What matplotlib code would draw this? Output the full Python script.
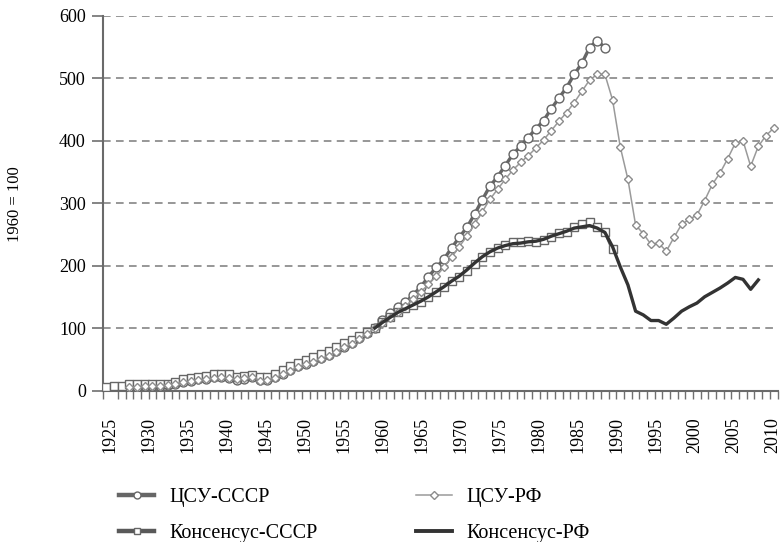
import matplotlib
matplotlib.use("Agg")
import matplotlib.pyplot as plt
from matplotlib.lines import Line2D
from matplotlib.ticker import FixedLocator, NullFormatter

plt.rcParams['font.family'] = ['Liberation Serif', 'DejaVu Serif']

# ---------------- data (1960 = 100) ----------------
years_cons_ussr = list(range(1925, 1992))
cons_ussr = [5, 7, 7, 10, 10, 11, 11, 11, 11, 14,
             18, 20, 21, 23, 26, 26, 26, 21, 23, 25,
             21, 21, 26, 33, 40, 44, 49, 54, 58, 64,
             69, 76, 81, 88, 94, 100, 110, 118, 125, 132,
             137, 142, 150, 158, 166, 176, 182, 192, 203, 213,
             221, 228, 233, 237, 237, 239, 238, 241, 245, 252,
             254, 261, 266, 269, 262, 254, 226]

years_csu_ussr = list(range(1928, 1991))
csu_ussr = [5, 6, 7, 8, 8, 9, 11, 13, 16, 18,
            19, 21, 22, 20, 17, 19, 21, 17, 17, 21,
            27, 33, 39, 43, 47, 52, 57, 63, 70, 76,
            84, 92, 100, 113, 124, 134, 141, 153, 166, 182,
            197, 210, 228, 245, 261, 282, 305, 327, 342, 360,
            378, 391, 405, 419, 432, 451, 468, 485, 506, 524,
            549, 560, 549]

years_csu_rf = list(range(1928, 2013))
csu_rf = [5, 6, 7, 8, 8, 9, 11, 13, 15, 17,
          18, 20, 21, 20, 18, 20, 22, 16, 17, 20,
          26, 32, 38, 42, 46, 51, 56, 62, 69, 75,
          83, 91, 100, 108, 116, 125, 135, 146, 158, 170,
          183, 197, 213, 230, 247, 266, 286, 306, 322, 338,
          353, 365, 376, 388, 401, 416, 431, 445, 461, 479,
          497, 506, 506, 465, 390, 338, 265, 251, 234, 236,
          223, 245, 266, 274, 281, 304, 330, 348, 371, 396,
          400, 359, 391, 408, 420]

years_cons_rf = list(range(1960, 2011))
cons_rf = [100, 109, 117, 125, 131, 137, 143, 150, 158, 166,
           175, 183, 193, 204, 214, 222, 228, 232, 235, 236,
           238, 239, 242, 247, 251, 255, 260, 262, 264, 260,
           253, 230, 198, 169, 127, 121, 112, 112, 106, 116,
           127, 134, 140, 150, 157, 164, 172, 181, 178, 162,
           177]

tick_labels = [str(y) for y in range(1925, 2011, 5)]
y_ticks = [0, 100, 200, 300, 400, 500, 600]

names = ['ЦСУ-СССР', 'ЦСУ-РФ', 'Консенсус-СССР', 'Консенсус-РФ']

# ---------------- figure ----------------
fig = plt.figure(figsize=(7.82, 5.42), dpi=100)
ax = fig.add_axes([102.5 / 782, 1 - 390.5 / 542, 675 / 782, 374.8 / 542])

st_csu_ussr = dict(color='#666666', lw=2.4, marker='o', ms=6.4,
                   mfc='white', mec='#666666', mew=1.0)
st_csu_rf = dict(color='#9a9a9a', lw=1.1, marker='D', ms=4.2,
                 mfc='white', mec='#8c8c8c', mew=1.0)
st_cons_ussr = dict(color='#595959', lw=2.4, marker='s', ms=5.8,
                    mfc='white', mec='#666666', mew=1.0)
st_cons_rf = dict(color='#333333', lw=2.4)

ax.plot(years_csu_ussr, csu_ussr, zorder=3, **st_csu_ussr)
ax.plot(years_cons_ussr, cons_ussr, zorder=4, **st_cons_ussr)
ax.plot(years_csu_rf, csu_rf, zorder=5, **st_csu_rf)
ax.plot(years_cons_rf, cons_rf, zorder=6, **st_cons_rf)

ax.set_xlim(1924.5, 2012.5)
ax.set_ylim(0, 600)

# y axis
ax.set_yticks(y_ticks)
ax.set_yticklabels([str(v) for v in y_ticks])
ax.tick_params(axis='y', length=8, width=1.2, color='#707070',
               labelsize=13, pad=4, direction='out')
ax.yaxis.grid(True, linestyle=(0, (5, 3.5)), color='#7a7a7a', lw=1.1)
ax.set_axisbelow(True)

# x axis: category-boundary ticks, labels placed as in reference
boundaries = [y + 0.5 for y in range(1924, 2013)]
ax.xaxis.set_minor_locator(FixedLocator(boundaries))
ax.xaxis.set_minor_formatter(NullFormatter())
label_pos = [1925.5 + (int(t) - 1925) * 1.016 for t in tick_labels]
ax.set_xticks(label_pos)
ax.set_xticklabels(tick_labels, rotation=90)
ax.tick_params(axis='x', which='major', length=0, labelsize=13, pad=19)
ax.tick_params(axis='x', which='minor', length=6, width=1.0,
               color='#707070', direction='out')

for s in ['top', 'right']:
    ax.spines[s].set_visible(False)
for s in ['left', 'bottom']:
    ax.spines[s].set_color('#6a6a6a')
    ax.spines[s].set_linewidth(1.5)

fig.text(15 / 782, 1 - 204 / 542, '1960 = 100', rotation=90,
         ha='center', va='center', fontsize=12)

leg_csu_ussr = dict(st_csu_ussr, lw=3.2, ms=5)
leg_cons_ussr = dict(st_cons_ussr, lw=3.2, ms=4.5)
leg_csu_rf = dict(st_csu_rf, ms=3.6)
leg_cons_rf = dict(st_cons_rf, lw=2.8)
handles = [Line2D([], [], **leg_csu_ussr),
           Line2D([], [], **leg_cons_ussr),
           Line2D([], [], **leg_csu_rf),
           Line2D([], [], **leg_cons_rf)]
labels = [names[0], names[2], names[1], names[3]]
fig.legend(handles, labels, ncol=2, frameon=False, fontsize=14.5,
           loc='upper left', bbox_to_anchor=(119 / 782, 1 - 487.5 / 542),
           borderpad=0, borderaxespad=0, handlelength=1.75,
           handletextpad=0.75, columnspacing=4.9, labelspacing=0.88,
           numpoints=1)

fig.savefig('out.png', dpi=100)
